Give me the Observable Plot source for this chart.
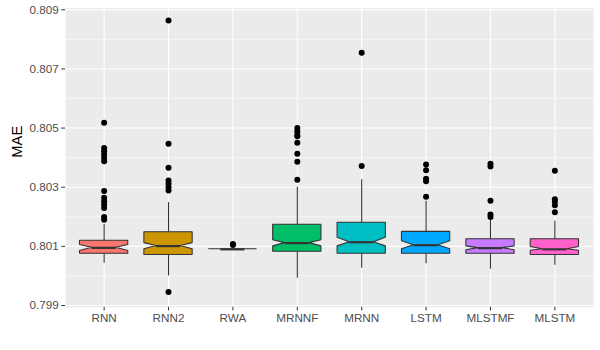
<!DOCTYPE html>
<html>
<head>
<meta charset="utf-8">
<script src="https://cdn.jsdelivr.net/npm/d3@7"></script>
<script src="https://cdn.jsdelivr.net/npm/@observablehq/plot@0.6"></script>
<style>
  html, body { margin: 0; padding: 0; background: #ffffff; }
  #chart svg { display: block; }
</style>
</head>
<body>
<div id="chart"></div>
<script>
const names = ["RNN", "RNN2", "RWA", "MRNNF", "MRNN", "LSTM", "MLSTMF", "MLSTM"];
const colors = ["#F8766D", "#CD9600", "#7CAE00", "#00BE67", "#00BFC4", "#00A9FF", "#C77CFF", "#FF61CC"];
const q1      = [0.80075, 0.80071, 0.80090, 0.80082, 0.80075, 0.80075, 0.80075, 0.80071];
const med     = [0.80095, 0.80101, 0.80090, 0.80111, 0.80114, 0.80104, 0.80094, 0.80090];
const q3      = [0.80119, 0.80148, 0.80090, 0.80173, 0.80180, 0.80149, 0.80124, 0.80124];
const notchLo = [0.80084, 0.80090, 0.80090, 0.80100, 0.80100, 0.80090, 0.80087, 0.80085];
const notchHi = [0.80105, 0.80111, 0.80090, 0.80121, 0.80129, 0.80117, 0.80100, 0.80098];
const whiskLo = [0.80043, 0.80000, 0.80090, 0.79992, 0.80026, 0.80041, 0.80023, 0.80036];
const whiskHi = [0.80174, 0.80248, 0.80090, 0.80300, 0.80325, 0.80253, 0.80187, 0.80185];
const outliers = [
  [0.80518, 0.80433, 0.80422, 0.80411, 0.80400, 0.80388, 0.80287, 0.80264, 0.80253, 0.80242, 0.80230, 0.80199, 0.80190],
  [0.80864, 0.80447, 0.80366, 0.80323, 0.80312, 0.80300, 0.80289, 0.79946],
  [0.80108, 0.80105],
  [0.80500, 0.80488, 0.80477, 0.80472, 0.80450, 0.80413, 0.80386, 0.80325],
  [0.80755, 0.80372],
  [0.80377, 0.80357, 0.80329, 0.80320, 0.80268],
  [0.80379, 0.80370, 0.80254, 0.80208, 0.80199],
  [0.80356, 0.80259, 0.80251, 0.80239, 0.80215]
];
const majorTicks = [0.799, 0.801, 0.803, 0.805, 0.807, 0.809];
const minorTicks = [0.800, 0.802, 0.804, 0.806, 0.808];

const hw = 0.375; // half box width in category units

const stats = names.map((name, k) => ({
  name, i: k + 1, q1: q1[k], med: med[k], q3: q3[k],
  lo: whiskLo[k], hi: whiskHi[k], nlo: notchLo[k], nhi: notchHi[k]
}));

const boxPts = stats.flatMap(s => [
  {name: s.name, y: s.q1,  x1: s.i - hw,     x2: s.i + hw},
  {name: s.name, y: s.nlo, x1: s.i - hw,     x2: s.i + hw},
  {name: s.name, y: s.med, x1: s.i - hw / 2, x2: s.i + hw / 2},
  {name: s.name, y: s.nhi, x1: s.i - hw,     x2: s.i + hw},
  {name: s.name, y: s.q3,  x1: s.i - hw,     x2: s.i + hw}
]);

const pts = names.flatMap((name, k) => outliers[k].map(v => ({i: k + 1, v})));

const plot = Plot.plot({
  width: 600,
  height: 350,
  marginLeft: 65,
  marginRight: 7,
  marginTop: 7.5,
  marginBottom: 43.2,
  style: {fontFamily: "'Liberation Sans', Arial, sans-serif", background: "#ffffff"},
  x: {domain: [0.4, 8.6], axis: null},
  y: {domain: [0.79894, 0.80906], axis: null},
  color: {domain: names, range: colors},
  marks: [
    Plot.frame({fill: "#EBEBEB", stroke: null}),
    Plot.ruleY(minorTicks, {stroke: "#ffffff", strokeWidth: 0.53}),
    Plot.ruleY(majorTicks, {stroke: "#ffffff", strokeWidth: 1.07}),
    Plot.ruleX(stats, {x: "i", stroke: "#ffffff", strokeWidth: 1.07}),
    Plot.ruleX(stats, {x: "i", y1: "q3", y2: "hi", stroke: "#333333", strokeWidth: 1.07}),
    Plot.ruleX(stats, {x: "i", y1: "lo", y2: "q1", stroke: "#333333", strokeWidth: 1.07}),
    Plot.areaX(boxPts, {y: "y", x1: "x1", x2: "x2", z: "name", fill: "name", stroke: "#333333", strokeWidth: 1.07, strokeLinejoin: "miter"}),
    Plot.ruleY(stats, {y: "med", x1: d => d.i - hw / 2, x2: d => d.i + hw / 2, stroke: "#333333", strokeWidth: 2.2}),
    Plot.dot(pts, {x: "i", y: "v", r: 3, fill: "#000000", stroke: null}),
    Plot.axisY({ticks: majorTicks, tickFormat: d3.format(".3f"), tickSize: 3.7, tickPadding: 3, fontSize: 11.7, fill: "#4D4D4D", stroke: "#333333", label: null}),
    Plot.axisX({ticks: [1, 2, 3, 4, 5, 6, 7, 8], tickFormat: d => names[d - 1], tickSize: 3.7, tickPadding: 3, fontSize: 11.7, fill: "#4D4D4D", stroke: "#333333", label: null}),
    Plot.text(["MAE"], {frameAnchor: "left", dx: -48, rotate: -90, fontSize: 14.7, fill: "#000000"})
  ]
});
document.getElementById("chart").appendChild(plot);
</script>
</body>
</html>
